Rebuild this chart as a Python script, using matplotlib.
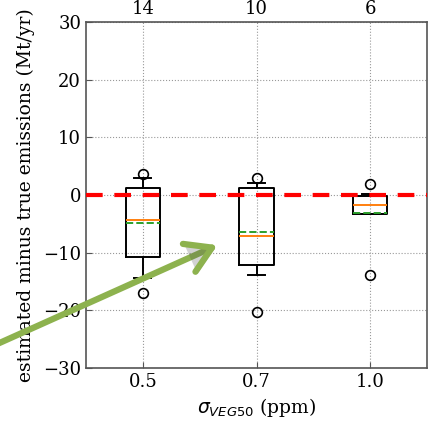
import numpy as np
import matplotlib.pyplot as plt
from matplotlib.patches import FancyArrowPatch
import matplotlib.patheffects as pe

# Bias of estimated emissions for three prior uncertainty settings
sigma_labels = ['0.5', '0.7', '1.0']
n_members = ['14', '10', '6']

q1 = [-10.8, -12.1, -3.3]
q3 = [1.3, 1.3, -0.1]
medians = [-4.3, -7.1, -1.8]
means = [-4.9, -6.5, -3.2]
whis_lo = [-14.4, -13.8, -3.3]
whis_hi = [2.9, 2.1, 0.1]
fliers = [[3.6, -17.0], [2.9, -20.3], [1.85, -13.9]]

plt.rcParams['font.family'] = 'DejaVu Serif'
plt.rcParams['font.size'] = 13

fig = plt.figure(figsize=(4.32, 4.22), dpi=100)
ax = fig.add_axes([86 / 432, 1 - 368 / 422, 341 / 432, 346 / 422])

stats = []
for i in range(len(sigma_labels)):
    stats.append(dict(med=medians[i], q1=q1[i], q3=q3[i], whislo=whis_lo[i],
                      whishi=whis_hi[i], mean=means[i], fliers=fliers[i]))

ax.bxp(stats, positions=[1, 2, 3], widths=0.3, showmeans=True, meanline=True,
       boxprops=dict(color='black', lw=1.4),
       whiskerprops=dict(color='black', lw=1.4),
       capprops=dict(color='black', lw=1.4),
       medianprops=dict(color='C1', lw=1.4),
       meanprops=dict(color='C2', lw=1.4, ls='--'),
       flierprops=dict(marker='o', markerfacecolor='none', markeredgecolor='black',
                       markersize=7, markeredgewidth=1.2))

ax.axhline(0, color='red', lw=3, dashes=(4, 2.8), zorder=5)

ax.set_xlim(0.5, 3.5)
ax.set_ylim(-30, 30)
ax.set_yticks(np.arange(-30, 31, 10))
ax.set_xticks([1, 2, 3])
ax.set_xticklabels(sigma_labels)
ax.grid(True, color='#999999', ls=':', lw=0.8)
ax.tick_params(direction='in', length=4, color='#555555')
for s in ax.spines.values():
    s.set_color('#555555')
    s.set_linewidth(1.2)

ax.set_ylabel('estimated minus true emissions (Mt/yr)', fontsize=13.5, labelpad=6)
ax.set_xlabel(r'$\sigma_{VEG50}$ (ppm)', fontsize=13.5)

top = ax.twiny()
top.set_xlim(ax.get_xlim())
top.set_xticks([1, 2, 3])
top.set_xticklabels(n_members)
top.tick_params(length=0, pad=3)
for s in top.spines.values():
    s.set_visible(False)

# green highlight arrow overlaid on the figure
arrow = FancyArrowPatch(
    (-5 / 432, 1 - 345 / 422), (220 / 432, 1 - 244 / 422),
    transform=fig.transFigure, arrowstyle='->,head_length=0.9,head_width=0.55',
    color='#8db24e', lw=4.5, mutation_scale=20, zorder=10)
arrow.set_path_effects([pe.SimplePatchShadow(offset=(1.5, -1.5), alpha=0.25), pe.Normal()])
fig.add_artist(arrow)

fig.savefig('out.png', dpi=100)
